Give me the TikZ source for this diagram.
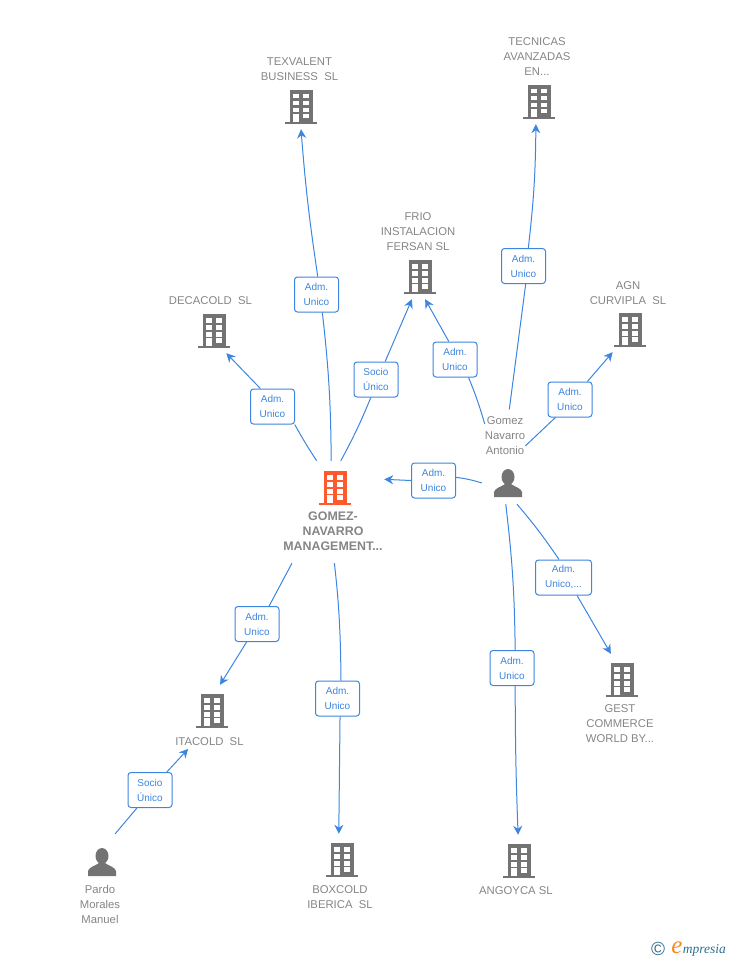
\documentclass[tikz,border=0pt]{standalone}
\usepackage{fontspec}
\setmainfont{Liberation Sans}
\newfontfamily\logofont{Liberation Serif}
\usetikzlibrary{positioning,arrows.meta}

\definecolor{linkblue}{HTML}{3C85E0}
\definecolor{icongray}{HTML}{737373}
\definecolor{textgray}{HTML}{858585}
\definecolor{mainorange}{HTML}{FF5A2B}
\definecolor{logoteal}{HTML}{2E6F8E}
\definecolor{logoorange}{HTML}{F58A1F}

\newcommand{\bldgicon}[1]{%
  \begin{scope}[shift={(path picture bounding box.center)}]
    \fill[#1] (-11.5,-17) rectangle (11.5,15);
    \fill[#1] (-16,15) rectangle (16,17);
    \foreach \wy in {-13,-6,1} {
      \fill[white] (-8,\wy) rectangle (-2.5,\wy+4.5);
      \fill[white] (2,\wy) rectangle (7.5,\wy+4.5);
    }
    \fill[white] (-8,7) rectangle (-2.5,15);
    \fill[white] (2,7) rectangle (7.5,11.5);
  \end{scope}}
\newcommand{\personicon}{%
  \begin{scope}[shift={(path picture bounding box.center)}]
    \fill[icongray] (0,-6) ellipse (6.5 and 8);
    \fill[icongray] (-14,14) -- (-14,9) .. controls (-13,5) and (-7,4) .. (-3,1)
      -- (3,1) .. controls (7,4) and (13,5) .. (14,9) -- (14,14) -- cycle;
  \end{scope}}

\tikzset{
  bldg/.style = { minimum width = 42pt, minimum height = 44pt, inner sep = 0pt, path picture = {\bldgicon{#1}} },
  bldg/.default = icongray,
  tallbldg/.style = { bldg = #1, minimum height = 52pt },
  tallbldg/.default = icongray,
  person/.style = { minimum width = 52pt, minimum height = 42pt, inner sep = 0pt, path picture = {\personicon} },
  nametext/.style = { align = center, inner sep = 0pt, text = textgray, font = \fontsize{11.3}{15}\selectfont },
  tagbox/.style = { draw = linkblue, fill = white, rounded corners = 3pt, line width = 1pt, align = center, inner sep = 0pt,
    minimum width = 44pt, minimum height = 35pt, text = linkblue, font = \fontsize{10}{15}\selectfont },
  link/.style = { draw = linkblue, line width = 1pt },
  arrowlink/.style = { link, -{Stealth[length = 9pt, width = 9pt]} }
}

\begin{document}
\begin{tikzpicture}[x = 1pt, y = -1pt]
    \useasboundingbox (0,0) rectangle (728,960);

    % companies
    \node [bldg] (texvalent) at (301,107) {};
    \node [nametext, above = 4pt of texvalent, xshift = -1.5pt] (texvalentT) { TEXVALENT \\ BUSINESS\ \ SL };
    \node [bldg] (tecnicas) at (539,102) {};
    \node [nametext, above = 4pt of tecnicas, xshift = -2pt] (tecnicasT) { TECNICAS \\ AVANZADAS \\ EN... };
    \node [bldg] (frio) at (420,277) {};
    \node [nametext, above = 4pt of frio, xshift = -2pt] (frioT) { FRIO \\ INSTALACION \\ FERSAN SL };
    \node [bldg] (decacold) at (214,331) {};
    \node [nametext, above = 4pt of decacold, xshift = -2pt] (decacoldT) { DECACOLD\ \ SL };
    \node [bldg] (agn) at (630,330) {};
    \node [nametext, above = 3pt of agn, xshift = -2pt] (agnT) { AGN \\ CURVIPLA\ \ SL };
    \node [tallbldg = mainorange, minimum width = 98pt, minimum height = 54pt] (main) at (335,488) {};
    \node [nametext, below = -4pt of main, xshift = -2pt, font = \fontsize{12.4}{15.4}\selectfont\bfseries] (mainT) { GOMEZ- \\ NAVARRO \\ MANAGEMENT... };
    \node [tallbldg] (itacold) at (212,711) {};
    \node [nametext, below = 0pt of itacold, xshift = -1pt] (itacoldT) { ITACOLD\ \ SL };
    \node [tallbldg] (gest) at (622,680) {};
    \node [nametext, below = -2pt of gest, xshift = -2pt] (gestT) { GEST \\ COMMERCE \\ WORLD BY... };
    \node [tallbldg] (boxcold) at (342,860) {};
    \node [nametext, below = -1pt of boxcold, xshift = -2pt] (boxcoldT) { BOXCOLD \\ IBERICA\ \ SL };
    \node [tallbldg] (angoyca) at (519,861) {};
    \node [nametext, below = -1pt of angoyca, xshift = -1.5pt] (angoycaT) { ANGOYCA SL };

    % people
    \node [person] (gomez) at (508,483) {};
    \node [nametext, above = 7pt of gomez, xshift = -3pt] (gomezT) { Gomez \\ Navarro \\ Antonio };
    \node [person, minimum height = 56pt] (pardo) at (102,862) {};
    \node [nametext, below = -5pt of pardo, xshift = -2pt] (pardoT) { Pardo \\ Morales \\ Manuel };

    % tags
    \node [tagbox] (tagTex) at (316.5,294.5) { Adm. \\ Unico };
    \node [tagbox] (tagDeca) at (272.5,406.5) { Adm. \\ Unico };
    \node [tagbox] (tagFrioA) at (376,379.5) { Socio \\ Único };
    \node [tagbox] (tagFrioB) at (455,359.5) { Adm. \\ Unico };
    \node [tagbox] (tagTec) at (523.5,266) { Adm. \\ Unico };
    \node [tagbox] (tagAgn) at (570,399.5) { Adm. \\ Unico };
    \node [tagbox] (tagMain) at (433.5,480.5) { Adm. \\ Unico };
    \node [tagbox, minimum width = 56pt] (tagGest) at (563.5,577.5) { Adm. \\ Unico,... };
    \node [tagbox] (tagAng) at (512,668) { Adm. \\ Unico };
    \node [tagbox] (tagIta) at (257,624) { Adm. \\ Unico };
    \node [tagbox] (tagBox) at (337.5,698.5) { Adm. \\ Unico };
    \node [tagbox] (tagPar) at (150,790) { Socio \\ Único };

    % connectors
    \draw [link] (main.98) to [bend right = 3] (tagTex.-72);
    \draw [arrowlink] (tagTex.86) to [bend left = 2] (texvalent.south);
    \draw [link] (main.124) to [bend left = 2] (tagDeca.-39);
    \draw [arrowlink] (tagDeca.124) -- (decacold.-61);
    \draw [link] (main.78) to [bend right = 3] (tagFrioA.-106);
    \draw [arrowlink] (tagFrioA.63) -- (frio.-110);
    \draw [link] (gomezT.150) to [bend right = 3] (tagFrioB.-53);
    \draw [arrowlink] (tagFrioB.109) -- (frio.-77);
    \draw [link, shorten < = 7pt] (gomezT.80) -- (tagTec.-83);
    \draw [arrowlink] (tagTec.75) to [bend right = 3] (tecnicas.-98);
    \draw [link] (gomezT.-27) -- (tagAgn.-129);
    \draw [arrowlink] (tagAgn.46) -- (agn.-128);
    \draw [link] (gomez.west) to [bend right = 5] (tagMain.8);
    \draw [arrowlink] (tagMain.west) -- (main.10);
    \draw [link] (gomez.-67) to [bend left = 3] (tagGest.104);
    \draw [arrowlink] (tagGest.-53) -- (gest.113);
    \draw [link] (gomez.-96) to [bend left = 3] (tagAng.80);
    \draw [arrowlink] (tagAng.-80) to [bend right = 1] (angoyca.92);
    \draw [link, shorten < = 13.6pt] (mainT.-150) -- (tagIta.56);
    \draw [arrowlink] (tagIta.-120) -- (itacold.73);
    \draw [link, shorten < = 12pt] (mainT.-90) to [bend left = 3] (tagBox.79);
    \draw [arrowlink] (tagBox.-82) -- (boxcold.97);
    \draw [link] (pardo.65) -- (tagPar.-126);
    \draw [arrowlink, shorten > = 4.5pt] (tagPar.47) -- (itacoldT.-168);

    % logo
    \node [inner sep = 0pt, text = logoteal, font = \fontsize{19}{19}\selectfont] (logoC) at (658,949) {©};
    \node [inner sep = 0pt, text = logoorange, font = \logofont\fontsize{25}{25}\selectfont\itshape, right = 6pt of logoC, yshift = 1pt] (logoE) {e};
    \node [inner sep = 0pt, text = logoteal, font = \logofont\fontsize{13.5}{13.5}\selectfont\itshape, right = 0pt of logoE, yshift = -2pt] (logoT) {mpresia};
\end{tikzpicture}
\end{document}
